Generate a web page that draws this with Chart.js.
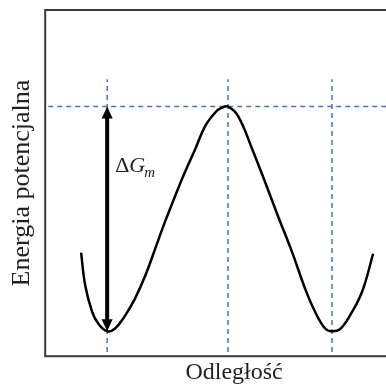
<!DOCTYPE html>
<html>
<head>
<meta charset="utf-8">
<script src="https://cdn.jsdelivr.net/npm/chart.js@4/dist/chart.umd.min.js"></script>
<style>
  html, body { margin: 0; padding: 0; overflow: hidden; background: #fff; }
  #wrap { width: 440px; height: 387px; }
</style>
</head>
<body>
<div id="wrap"><canvas id="energy"></canvas></div>
<script>
// potential energy profile along the distance coordinate
const distance = [0.95, 1.06, 1.24, 1.40, 1.64, 1.85, 2.12, 2.38, 2.65, 2.91, 3.17, 3.44, 3.70, 3.97,
  4.23, 4.50, 4.66, 4.84, 5.11, 5.48, 5.82, 6.16, 6.53, 6.88, 7.14, 7.41, 7.59, 7.80, 8.07, 8.39, 8.68];
const energy = [2.99, 2.04, 1.29, 0.95, 0.72, 0.80, 1.18, 1.67, 2.33, 3.10, 3.88, 4.63, 5.32, 5.98,
  6.64, 7.04, 7.17, 7.21, 6.93, 5.98, 5.03, 4.05, 3.02, 1.95, 1.29, 0.80, 0.72, 0.78, 1.18, 1.87, 2.96];

// minima and barrier maximum
const wellLeft = 1.64;
const barrierAt = 4.84;
const wellRight = 7.59;
const barrierTop = 7.21;
const wellBottom = 0.72;

const xTitle = 'Odległość';
const yTitle = 'Energia potencjalna';

const guideColor = '#4a70c4';
const serif = '"Liberation Serif", "Times New Roman", serif';

const curve = distance.map((d, i) => ({ x: d, y: energy[i] }));

function vGuide(at) {
  return {
    data: [{ x: at, y: 0.12 }, { x: at, y: 8.0 }],
    borderColor: guideColor, borderWidth: 1.5, borderDash: [5, 4],
    pointRadius: 0, fill: false
  };
}

const decor = {
  id: 'decor',
  beforeDatasetsDraw(chart) {
    const { ctx, chartArea: a } = chart;
    ctx.save();
    ctx.strokeStyle = '#3a3a3a';
    ctx.lineWidth = 2;
    ctx.strokeRect(a.left, a.top, a.right - a.left, a.bottom - a.top);
    ctx.restore();
  },
  afterDatasetsDraw(chart) {
    const { ctx, scales: { x, y } } = chart;
    const ax = x.getPixelForValue(wellLeft);
    const yTop = y.getPixelForValue(barrierTop);
    const yBot = y.getPixelForValue(wellBottom);
    const headLen = 12, headHalf = 5.5;

    ctx.save();
    ctx.strokeStyle = '#000';
    ctx.fillStyle = '#000';
    ctx.lineWidth = 4;
    ctx.beginPath();
    ctx.moveTo(ax, yTop + headLen - 1);
    ctx.lineTo(ax, yBot - headLen + 1);
    ctx.stroke();

    ctx.beginPath();
    ctx.moveTo(ax, yTop);
    ctx.lineTo(ax - headHalf, yTop + headLen);
    ctx.lineTo(ax + headHalf, yTop + headLen);
    ctx.closePath();
    ctx.fill();

    ctx.beginPath();
    ctx.moveTo(ax, yBot);
    ctx.lineTo(ax - headHalf, yBot - headLen);
    ctx.lineTo(ax + headHalf, yBot - headLen);
    ctx.closePath();
    ctx.fill();

    // ΔG_m label beside the arrow
    const lx = ax + 8;
    const ly = yTop + (yBot - yTop) * 0.29;
    ctx.fillStyle = '#222';
    ctx.textBaseline = 'alphabetic';
    ctx.font = '22px ' + serif;
    ctx.fillText('Δ', lx, ly);
    let w = ctx.measureText('Δ').width;
    ctx.font = 'italic 22px ' + serif;
    ctx.fillText('G', lx + w, ly);
    w += ctx.measureText('G').width;
    ctx.font = 'italic 15px ' + serif;
    ctx.fillText('m', lx + w - 1, ly + 5);
    ctx.restore();
  }
};

new Chart(document.getElementById('energy'), {
  type: 'line',
  data: {
    datasets: [
      {
        data: curve,
        borderColor: '#000', borderWidth: 2.5,
        pointRadius: 0, fill: false,
        tension: 0.4
      },
      {
        data: [{ x: 0.08, y: barrierTop }, { x: 10, y: barrierTop }],
        borderColor: guideColor, borderWidth: 1.5, borderDash: [5, 4],
        pointRadius: 0, fill: false
      },
      vGuide(wellLeft),
      vGuide(barrierAt),
      vGuide(wellRight)
    ]
  },
  options: {
    responsive: true,
    maintainAspectRatio: false,
    animation: false,
    layout: { padding: { left: 6, top: 10, right: 17, bottom: 0 } },
    plugins: { legend: { display: false }, tooltip: { enabled: false } },
    scales: {
      x: {
        type: 'linear', min: 0, max: 10,
        grid: { display: false, drawTicks: false, tickLength: 0 },
        border: { display: false },
        ticks: { display: false },
        title: {
          display: true, text: xTitle, color: '#222',
          font: { family: serif, size: 24 },
          padding: { top: 2, bottom: 0 }
        }
      },
      y: {
        type: 'linear', min: 0, max: 10,
        grid: { display: false, drawTicks: false, tickLength: 0 },
        border: { display: false },
        ticks: { display: false },
        title: {
          display: true, text: yTitle, color: '#222',
          font: { family: serif, size: 26 },
          padding: { top: 1, bottom: 7 }
        }
      }
    }
  },
  plugins: [decor]
});
</script>
</body>
</html>
